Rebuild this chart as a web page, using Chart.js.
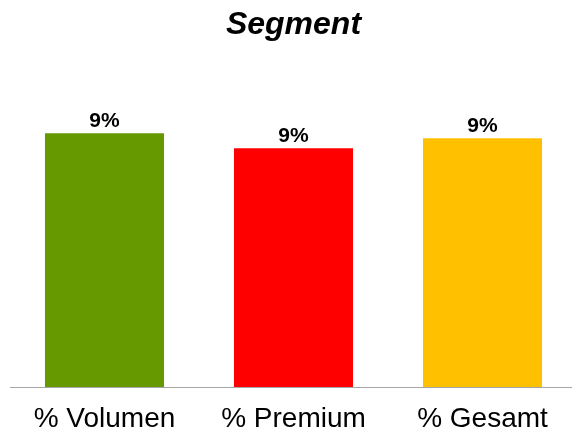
<!DOCTYPE html>
<html>
<head>
<meta charset="utf-8">
<script src="https://cdn.jsdelivr.net/npm/chart.js@4"></script>
<style>
  html, body { margin: 0; padding: 0; background: #fff; overflow: hidden; }
</style>
</head>
<body>
<canvas id="segmentChart" width="577" height="437"></canvas>
<script>
// Chart data
const categories = ['% Volumen', '% Premium', '% Gesamt'];
const values = [9.4, 8.84, 9.21];
const barColors = ['#669900', '#ff0000', '#ffc000'];
const yMax = 12.32;

// Draw the value labels above each bar
const valueLabels = {
  id: 'valueLabels',
  afterDatasetsDraw(chart) {
    const ctx = chart.ctx;
    const meta = chart.getDatasetMeta(0);
    ctx.save();
    ctx.font = 'bold 21px "Liberation Sans", Arial, sans-serif';
    ctx.fillStyle = '#000';
    ctx.textAlign = 'center';
    ctx.textBaseline = 'alphabetic';
    meta.data.forEach((bar, i) => {
      ctx.fillText(Math.round(values[i]) + '%', bar.x, bar.y - 6);
    });
    ctx.restore();
  }
};

const ctx = document.getElementById('segmentChart').getContext('2d');
new Chart(ctx, {
  type: 'bar',
  data: {
    labels: categories,
    datasets: [{
      data: values,
      backgroundColor: barColors,
      borderWidth: 0,
      categoryPercentage: 1,
      barPercentage: 0.63
    }]
  },
  options: {
    responsive: false,
    animation: false,
    layout: { padding: { left: 10, right: 0, top: 0, bottom: 0 } },
    plugins: {
      legend: { display: false },
      tooltip: { enabled: false },
      title: {
        display: true,
        text: 'Segment',
        color: '#000',
        font: { family: '"Liberation Sans", Arial, sans-serif', size: 32, weight: 'bold', style: 'italic', lineHeight: 1.2 },
        padding: { top: 6, bottom: 10 }
      }
    },
    scales: {
      x: {
        grid: { display: false },
        border: { display: true, color: '#a6a6a6', width: 1 },
        ticks: {
          color: '#000',
          padding: 11,
          font: { family: '"Liberation Sans", Arial, sans-serif', size: 28, lineHeight: 0.93 }
        },
        afterFit(scale) { scale.height = 50; }
      },
      y: {
        display: false,
        min: 0,
        max: yMax
      }
    }
  },
  plugins: [valueLabels]
});
</script>
</body>
</html>
